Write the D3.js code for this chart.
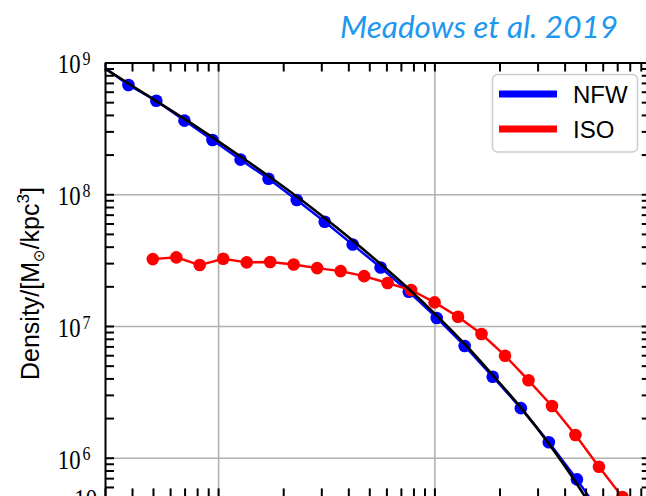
<!DOCTYPE html>
<html>
<head>
<meta charset="utf-8">
<script src="https://cdn.jsdelivr.net/npm/d3@7"></script>
<style>
  body { margin: 0; background: #fff; }
  svg { display: block; overflow: hidden; }
</style>
</head>
<body>
<svg id="chart" width="646" height="496"></svg>
<script>
// Simulated halo density profile (radius in kpc, density in Msun/kpc^3)
const nfwRadius  = [0.285, 0.385, 0.518, 0.699, 0.942, 1.27, 1.71, 2.31, 3.11, 4.19, 5.64, 7.61, 10.25, 13.8, 18.6, 25.1, 33.8, 45.6, 61.5];
const nfwDensity = [9.7e8, 6.75e8, 5.13e8, 3.62e8, 2.58e8, 1.83e8, 1.31e8, 9.04e7, 6.18e7, 4.15e7, 2.78e7, 1.82e7, 1.15e7, 7.05e6, 4.12e6, 2.38e6, 1.31e6, 6.85e5, 3.37e5];

const isoRadius  = [0.499, 0.641, 0.822, 1.056, 1.356, 1.741, 2.236, 2.871, 3.686, 4.732, 6.075, 7.801, 10.02, 12.86, 16.51, 21.21, 27.23, 34.96, 44.88, 57.64, 73.99, 95.0];
const isoDensity = [3.22e7, 3.32e7, 2.90e7, 3.24e7, 3.04e7, 3.06e7, 2.93e7, 2.75e7, 2.61e7, 2.39e7, 2.12e7, 1.875e7, 1.51e7, 1.176e7, 8.69e6, 5.95e6, 3.87e6, 2.47e6, 1.487e6, 8.54e5, 5.03e5, 2.83e5];

// Fitted NFW curve
const fitRadius  = [0.3, 0.385, 0.518, 0.699, 0.942, 1.27, 1.71, 2.31, 3.11, 4.19, 5.64, 7.61, 10.25, 13.8, 18.6, 25.1, 33.8, 45.6, 61.5];
const fitDensity = [8.96e8, 6.93e8, 5.10e8, 3.73e8, 2.70e8, 1.934e8, 1.375e8, 9.61e7, 6.60e7, 4.45e7, 2.95e7, 1.91e7, 1.20e7, 7.30e6, 4.24e6, 2.40e6, 1.28e6, 6.32e5, 2.83e5];

const seriesNames = ["NFW", "ISO"];
const seriesColors = ["#0000ff", "#ff0000"];
const yMajor = [1e9, 1e8, 1e7, 1e6];
const yTickExponents = ["9", "8", "7", "6"];
const xMajor = [1, 10, 100];
const titleText = "Meadows et al. 2019";

const svg = d3.select("#chart");
const plot = { left: 105, right: 650.7, top: 62.5, bottom: 497.4 };

const x = d3.scaleLog().domain([0.3, 100]).range([plot.left, plot.right]);
const y = d3.scaleLog().domain([5e5, 1e9]).range([plot.bottom, plot.top]);

// grid at major ticks
const gx = svg.append("g")
  .attr("transform", `translate(0,${plot.bottom})`)
  .call(d3.axisBottom(x).tickValues(xMajor).tickSize(-(plot.bottom - plot.top)).tickFormat(""));
const gy = svg.append("g")
  .attr("transform", `translate(${plot.left},0)`)
  .call(d3.axisLeft(y).tickValues(yMajor).tickSize(-(plot.right - plot.left)).tickFormat(""));
[gx, gy].forEach(g => {
  g.select(".domain").remove();
  g.selectAll("line").attr("stroke", "#b0b0b0").attr("stroke-width", 1.6);
});

svg.append("defs").append("clipPath").attr("id", "plotClip")
  .append("rect")
  .attr("x", plot.left).attr("y", plot.top)
  .attr("width", plot.right - plot.left).attr("height", plot.bottom - plot.top);

const data = svg.append("g").attr("clip-path", "url(#plotClip)");
const line = d3.line().x(d => x(d[0])).y(d => y(d[1]));

const nfw = nfwRadius.map((r, i) => [r, nfwDensity[i]]);
const iso = isoRadius.map((r, i) => [r, isoDensity[i]]);
const fit = fitRadius.map((r, i) => [r, fitDensity[i]]);

[[nfw, seriesColors[0]], [iso, seriesColors[1]]].forEach(([pts, col]) => {
  data.append("path").datum(pts)
    .attr("d", line).attr("fill", "none")
    .attr("stroke", col).attr("stroke-width", 2.4);
  data.append("g").selectAll("circle").data(pts).join("circle")
    .attr("cx", d => x(d[0])).attr("cy", d => y(d[1]))
    .attr("r", 6.3).attr("fill", col);
});

data.append("path").datum(fit)
  .attr("d", line.curve(d3.curveCatmullRom.alpha(0.5)))
  .attr("fill", "none").attr("stroke", "#000").attr("stroke-width", 2.6);

// inward ticks on all four spines
const tickLen = 9;
const axes = [
  [d3.axisLeft(y).tickValues(y.ticks()), `translate(${plot.left},0)`],
  [d3.axisRight(y).tickValues(y.ticks()), `translate(${plot.right},0)`],
  [d3.axisTop(x).tickValues(x.ticks()), `translate(0,${plot.top})`],
  [d3.axisBottom(x).tickValues(x.ticks()), `translate(0,${plot.bottom})`]
];
axes.forEach(([ax, tr]) => {
  const g = svg.append("g").attr("transform", tr)
    .call(ax.tickSize(-tickLen).tickSizeOuter(0).tickFormat(""));
  g.select(".domain").attr("stroke", "#000").attr("stroke-width", 2);
  g.selectAll(".tick line").attr("stroke", "#000").attr("stroke-width", 2);
});

// y tick labels: 10^n
const serif = "'Liberation Serif', 'DejaVu Serif', serif";
yMajor.forEach((v, i) => {
  const ty = y(v);
  svg.append("g").attr("transform", `translate(80.5,${ty + 10.8}) scale(0.84,1)`)
    .append("text").attr("text-anchor", "end")
    .attr("font-family", serif).attr("font-size", 27).attr("fill", "#000")
    .text("10");
  svg.append("g").attr("transform", `translate(90.5,${ty + 2.6}) scale(0.84,1)`)
    .append("text").attr("text-anchor", "end")
    .attr("font-family", serif).attr("font-size", 19).attr("fill", "#000")
    .text(yTickExponents[i]);
});
// label from the panel below, cut by the figure edge
svg.append("g").attr("transform", "translate(97,507.5) scale(0.84,1)")
  .append("text").attr("text-anchor", "end")
  .attr("font-family", serif).attr("font-size", 27).attr("fill", "#000")
  .text("10");

// y axis title
const sans = "'Liberation Sans', 'DejaVu Sans', sans-serif";
const yl = svg.append("g").attr("transform", "translate(38.5,380) rotate(-90)")
  .append("text").attr("font-family", sans).attr("font-size", 25).attr("fill", "#000");
yl.append("tspan").text("Density/[M");
yl.append("tspan").attr("font-size", 15).attr("dy", 5).attr("font-family", "'DejaVu Sans', sans-serif").text("\u2299");
yl.append("tspan").attr("dy", -5).text("/kpc");
yl.append("tspan").attr("font-size", 17).attr("dy", -10).text("3");
yl.append("tspan").attr("dy", 10).text("]");

// legend
const leg = svg.append("g");
leg.append("rect")
  .attr("x", 492.5).attr("y", 74.5).attr("width", 145).attr("height", 77.5)
  .attr("rx", 5).attr("fill", "#fff").attr("fill-opacity", 0.8)
  .attr("stroke", "#cccccc").attr("stroke-width", 1.5);
seriesNames.forEach((name, i) => {
  const ly = 94 + i * 35;
  leg.append("line")
    .attr("x1", 499).attr("x2", 557).attr("y1", ly).attr("y2", ly)
    .attr("stroke", seriesColors[i]).attr("stroke-width", 7);
  leg.append("text")
    .attr("x", 573).attr("y", ly + 9.3)
    .attr("font-family", sans).attr("font-size", 24).attr("fill", "#000")
    .text(name);
});

// title
svg.append("text")
  .attr("x", 340).attr("y", 37.5)
  .attr("font-family", "Lato, 'Open Sans', sans-serif")
  .attr("font-style", "italic").attr("font-size", 31)
  .attr("fill", "#1e98ee")
  .attr("textLength", 278).attr("lengthAdjust", "spacingAndGlyphs")
  .text(titleText);
</script>
</body>
</html>
